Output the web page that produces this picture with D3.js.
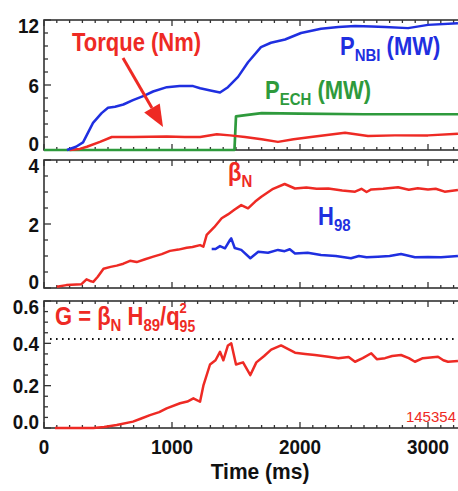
<!DOCTYPE html>
<html lang="en">

<head>
    <meta charset="UTF-8">
    <title>145354</title>
    <script src="https://cdn.jsdelivr.net/npm/d3@7"></script>
    <style>
        body { margin: 0; background: #fff; }
        text { font-family: "Liberation Sans", Arial, sans-serif; font-weight: bold; }
        text.shot { font-weight: normal; }
    </style>
</head>

<body>
    <svg id="main" width="458" height="491"></svg>
    <script>
        // time in ms
        const pNbi = [[180, 0], [250, 0.3], [305, 0.7], [383, 2.5], [450, 3.4], [500, 3.9], [555, 4.0], [620, 4.2], [695, 4.6], [780, 5.0], [852, 5.4], [960, 5.8], [1060, 5.9], [1165, 5.9], [1220, 5.7], [1300, 5.5], [1375, 5.3], [1437, 5.8], [1516, 6.75], [1594, 8.1], [1695, 9.5], [1773, 9.9], [1883, 10.2], [2008, 10.8], [2164, 11.2], [2300, 11.35], [2430, 11.45], [2560, 11.4], [2664, 11.35], [2844, 11.25], [3000, 11.55], [3234, 11.7]];
        const torque = [[200, 0], [280, 0.1], [335, 0.3], [437, 0.75], [530, 1.2], [695, 1.2], [960, 1.25], [1100, 1.2], [1220, 1.2], [1350, 1.45], [1453, 1.35], [1570, 1.2], [1700, 1.0], [1828, 0.75], [1950, 1.0], [2086, 1.2], [2352, 1.6], [2531, 1.3], [2742, 1.35], [3000, 1.35], [3234, 1.5]];
        const pEch = [[0, 0], [1488, 0], [1500, 3.1], [1560, 3.2], [1700, 3.4], [2000, 3.35], [2500, 3.3], [3000, 3.3], [3250, 3.3]];

        const betaN = [[100, 0.04], [175, 0.09], [293, 0.12], [332, 0.27], [360, 0.22], [385, 0.19], [420, 0.35], [465, 0.6], [520, 0.66], [568, 0.7], [620, 0.76], [672, 0.85], [724, 0.81], [790, 0.9], [854, 0.98], [920, 1.06], [984, 1.16], [1050, 1.2], [1115, 1.26], [1160, 1.28], [1219, 1.34], [1245, 1.29], [1271, 1.66], [1330, 1.9], [1388, 2.18], [1437, 2.3], [1490, 2.45], [1541, 2.59], [1594, 2.49], [1650, 2.7], [1698, 2.85], [1790, 3.1], [1880, 3.25], [1961, 3.11], [2050, 3.14], [2130, 3.1], [2221, 3.11], [2330, 3.05], [2430, 3.01], [2480, 3.1], [2520, 3.0], [2557, 3.08], [2650, 3.1], [2766, 3.15], [2850, 3.07], [2920, 3.12], [3000, 3.08], [3060, 3.1], [3130, 3.01], [3234, 3.06]];
        const h98 = [[1310, 1.22], [1340, 1.22], [1375, 1.31], [1414, 1.24], [1453, 1.5], [1463, 1.55], [1490, 1.25], [1541, 1.19], [1612, 0.93], [1674, 1.13], [1750, 1.1], [1828, 1.19], [1880, 1.15], [1920, 1.21], [1961, 1.08], [2060, 1.1], [2164, 1.03], [2280, 1.0], [2398, 0.93], [2460, 1.0], [2520, 0.96], [2609, 0.98], [2700, 1.0], [2789, 1.06], [2898, 0.96], [3000, 0.97], [3102, 0.96], [3234, 1.0]];

        const gFactor = [[86, 0], [385, 0], [470, 0.005], [568, 0.014], [695, 0.03], [760, 0.045], [828, 0.061], [900, 0.075], [958, 0.093], [1063, 0.117], [1120, 0.125], [1167, 0.14], [1219, 0.124], [1245, 0.2], [1297, 0.3], [1340, 0.32], [1375, 0.36], [1401, 0.32], [1437, 0.39], [1463, 0.4], [1500, 0.3], [1555, 0.31], [1612, 0.25], [1659, 0.31], [1720, 0.34], [1775, 0.37], [1852, 0.39], [1961, 0.356], [2040, 0.35], [2117, 0.345], [2221, 0.337], [2300, 0.33], [2380, 0.335], [2430, 0.313], [2490, 0.33], [2557, 0.353], [2600, 0.325], [2664, 0.33], [2720, 0.34], [2789, 0.345], [2850, 0.33], [2898, 0.313], [2960, 0.33], [3078, 0.337], [3120, 0.32], [3156, 0.313], [3234, 0.317]];
        const gLimit = 0.42;

        const xTicks = [0, 1000, 2000, 3000];
        const yTicks1 = [0, 6, 12];
        const yTicks2 = [0, 2, 4];
        const yTicks3 = [0, 0.2, 0.4, 0.6];

        const red = '#ee2a24', blue = '#1f2fe0', green = '#2e9a3c';
        const svg = d3.select('#main');
        const x = d3.scaleLinear().domain([0, 3250]).range([44, 460]);

        const panels = [
            { top: 20, bottom: 150, domain: [0, 12], ticks: yTicks1, minor: 1.2, fmt: d3.format('d') },
            { top: 160, bottom: 288, domain: [0, 4], ticks: yTicks2, minor: 0.5, fmt: d3.format('d') },
            { top: 301, bottom: 428, domain: [0, 0.6], ticks: yTicks3, minor: 0.05, fmt: d3.format('.1f') }
        ];

        panels.forEach((p, i) => {
            p.y = d3.scaleLinear().domain(p.domain).range([p.bottom, p.top]);
            svg.append('clipPath').attr('id', 'clip' + i)
                .append('rect').attr('x', x(0)).attr('y', p.top - 2)
                .attr('width', x(3250) - x(0)).attr('height', p.bottom - p.top + 4);
            p.g = svg.append('g');
            p.plot = svg.append('g').attr('clip-path', `url(#clip${i})`);

            // frame
            p.g.append('rect').attr('x', x(0)).attr('y', p.top)
                .attr('width', x(3250) - x(0)).attr('height', p.bottom - p.top)
                .attr('fill', 'none').attr('stroke', '#333').attr('stroke-width', 1.6);

            // x ticks, inward on top and bottom
            const xt = d3.range(0, 3251, 100);
            xt.forEach(t => {
                const len = t % 1000 === 0 ? 6 : 3;
                p.g.append('line').attr('x1', x(t)).attr('x2', x(t))
                    .attr('y1', p.bottom).attr('y2', p.bottom - len).attr('stroke', '#333').attr('stroke-width', 1.3);
                p.g.append('line').attr('x1', x(t)).attr('x2', x(t))
                    .attr('y1', p.top).attr('y2', p.top + len).attr('stroke', '#333').attr('stroke-width', 1.3);
            });

            // y ticks
            const nMinor = Math.round((p.domain[1] - p.domain[0]) / p.minor);
            d3.range(nMinor + 1).map(k => p.domain[0] + k * p.minor).forEach(v => {
                const isMajor = p.ticks.some(t => Math.abs(t - v) < 1e-6);
                p.g.append('line').attr('x1', x(0)).attr('x2', x(0) + (isMajor ? 7 : 4))
                    .attr('y1', p.y(v)).attr('y2', p.y(v)).attr('stroke', '#333').attr('stroke-width', 1.3);
            });

            p.ticks.forEach(v => {
                const cy = Math.max(p.top + 5, Math.min(p.bottom - 7, p.y(v)));
                p.g.append('text')
                    .attr('transform', `translate(39,${cy + 7.5}) scale(0.9,1)`)
                    .attr('text-anchor', 'end').attr('font-size', 21).attr('fill', '#111')
                    .text(p.fmt(v));
            });
        });

        function drawLine(p, data, color, w) {
            const line = d3.line().x(d => x(d[0])).y(d => p.y(d[1]));
            p.plot.append('path').datum(data).attr('d', line)
                .attr('fill', 'none').attr('stroke', color).attr('stroke-width', w || 2.5)
                .attr('stroke-linejoin', 'round');
        }

        const [p1, p2, p3] = panels;
        drawLine(p1, pEch, green, 2.7);
        drawLine(p1, torque, red);
        drawLine(p1, pNbi, blue);
        drawLine(p2, betaN, red);
        drawLine(p2, h98, blue);

        p3.plot.append('line').attr('x1', x(0) + 6).attr('x2', x(3250))
            .attr('y1', p3.y(gLimit)).attr('y2', p3.y(gLimit))
            .attr('stroke', '#111').attr('stroke-width', 2).attr('stroke-dasharray', '1.6 4.4');
        drawLine(p3, gFactor, red);

        // x tick labels + title
        xTicks.forEach(t => {
            svg.append('text').attr('transform', `translate(${x(t)},454) scale(0.9,1)`)
                .attr('text-anchor', 'middle').attr('font-size', 21).attr('fill', '#111')
                .text(t);
        });
        svg.append('text').attr('transform', 'translate(260,479) scale(1,1.05)')
            .attr('text-anchor', 'middle').attr('font-size', 21).attr('fill', '#111')
            .text('Time (ms)');

        // labels with sub/superscripts
        function label(px, py, parts, color) {
            const t = svg.append('text').attr('transform', `translate(${px},${py}) scale(1,1.15)`)
                .attr('font-size', 22).attr('fill', color);
            parts.forEach(([s, kind, dx]) => {
                const ts = t.append('tspan').text(s);
                if (kind === 'sub') ts.attr('font-size', 15).attr('dy', 5);
                else if (kind === 'sub2') ts.attr('font-size', 14).attr('dy', 6);
                else if (kind === 'sup') ts.attr('font-size', 13).attr('dy', -16.5);
                else if (kind === 'back') ts.attr('dy', -5);
                if (dx) ts.attr('dx', dx);
            });
            return t;
        }

        label(72, 51, [['Torque (Nm)']], red);
        label(340, 55, [['P'], ['NBI', 'sub'], [' (MW)', 'back']], blue);
        label(265, 99, [['P'], ['ECH', 'sub'], [' (MW)', 'back']], green);
        label(228, 181, [['β'], ['N', 'sub']], red);
        label(318, 225, [['H'], ['98', 'sub']], blue);
        label(55, 325, [['G = β'], ['N', 'sub'], [' H', 'back'], ['89', 'sub'], ['/q', 'back'], ['95', 'sub2'], ['2', 'sup', -15.6]], red);

        svg.append('text').attr('class', 'shot').attr('x', 456).attr('y', 422).attr('text-anchor', 'end')
            .attr('font-size', 15).attr('fill', red).text('145354');

        // arrow from the torque label down to its trace
        const a0 = [123, 58], a1 = [163, 127];
        const dx = a1[0] - a0[0], dy = a1[1] - a0[1], L = Math.hypot(dx, dy);
        const ux = dx / L, uy = dy / L, hl = 22, hw = 9;
        const bx = a1[0] - ux * hl, by = a1[1] - uy * hl;
        svg.append('line').attr('x1', a0[0]).attr('y1', a0[1]).attr('x2', bx).attr('y2', by)
            .attr('stroke', red).attr('stroke-width', 3);
        svg.append('path')
            .attr('d', `M${a1[0]},${a1[1]}L${bx - uy * hw},${by + ux * hw}L${bx + uy * hw},${by - ux * hw}Z`)
            .attr('fill', red);
    </script>
</body>

</html>
